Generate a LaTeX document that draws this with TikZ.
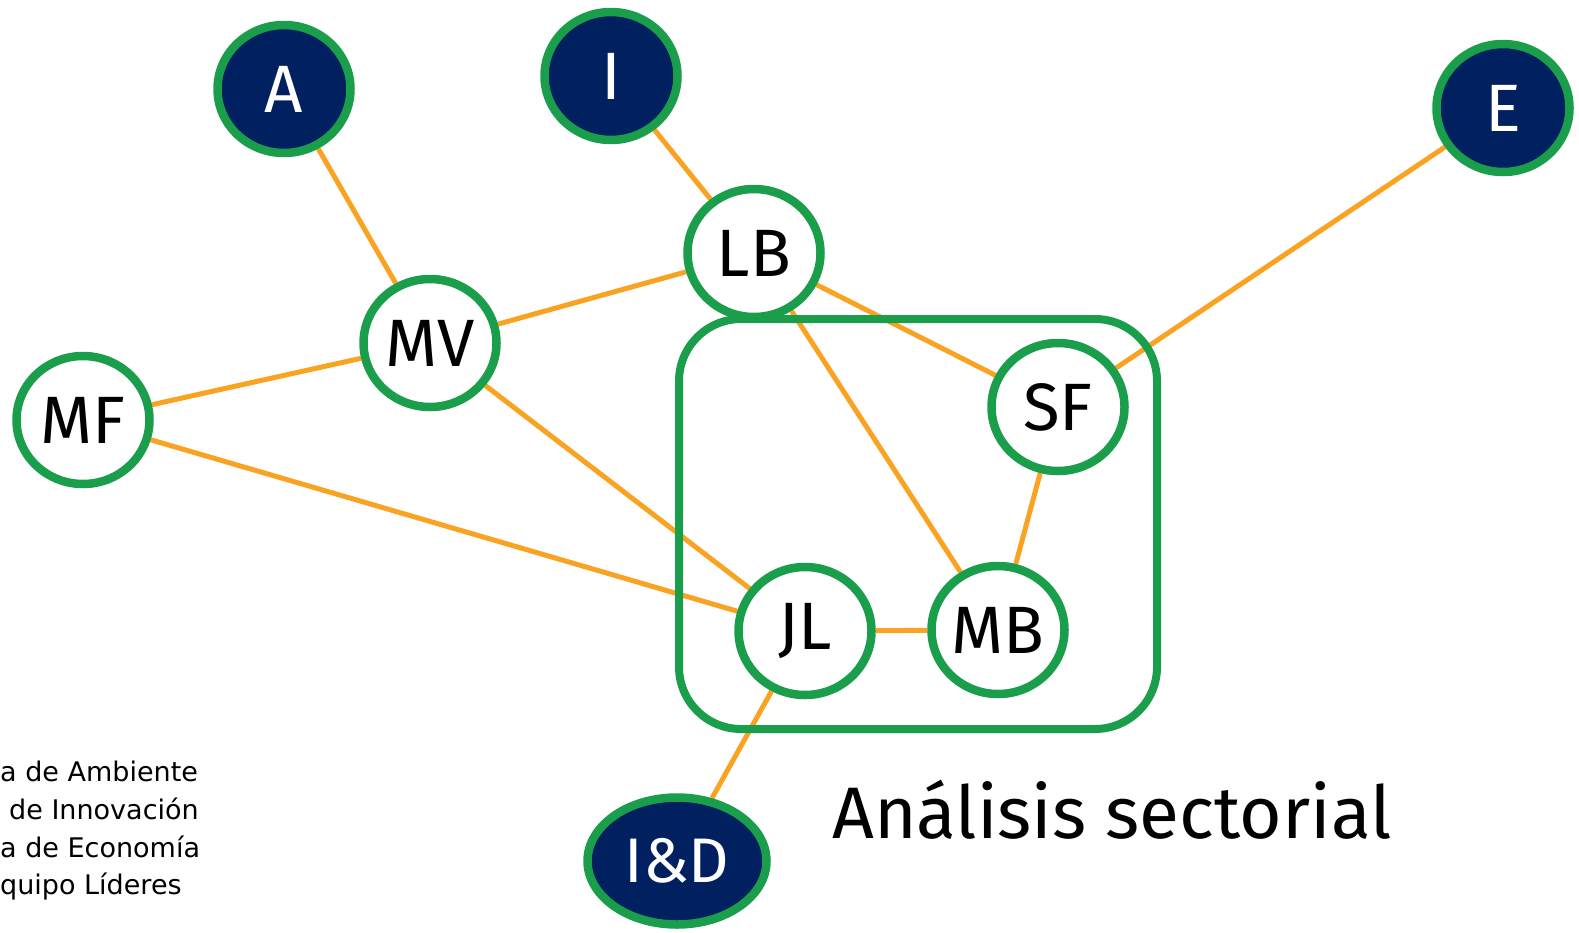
\documentclass[tikz,border=0pt]{standalone}
\usepackage{fontspec}
\setmainfont{Fira Sans}
\newfontfamily\notefont{DejaVu Sans}
\usetikzlibrary{shapes.geometric,backgrounds,shadows}
\definecolor{navy}{RGB}{0,32,96}
\definecolor{grn}{RGB}{26,158,76}
\definecolor{org}{RGB}{250,163,35}
\begin{document}
\begin{tikzpicture}[x=1pt,y=-1pt,
  person/.style={ellipse, draw=grn, line width=8.5pt, fill=white,
    minimum width=133pt, minimum height=128pt, inner sep=0pt,
    font=\fontsize{67}{67}\selectfont,
    drop shadow={shadow xshift=1.5pt, shadow yshift=-3pt, opacity=0.12}},
  area/.style={person, fill=navy, text=white},
  link/.style={draw=org, line width=5pt},
  group/.style={draw=grn, line width=8pt, rounded corners=62pt,
    minimum width=478pt, minimum height=410pt, inner sep=0pt},
  note/.style={anchor=base west, inner sep=0pt, font=\notefont\fontsize{27}{27}\selectfont}
]
\useasboundingbox (0,0) rectangle (1579,932);

\node[area] (A) at (284,89) {A};
\node[area] (I) at (611,76) {I};
\node[area] (E) at (1503,108) {E};
\node[area, minimum width=179pt, minimum height=127pt, font=\fontsize{63}{63}\selectfont] (ID) at (677,861) {I\&D};

\node[person] (LB) at (754,253) {LB};
\node[person] (MV) at (430,343) {MV};
\node[person] (MF) at (83,420) {MF};
\node[person] (SF) at (1058,407) {SF};
\node[person] (JL) at (805,631) {JL};
\node[person] (MB) at (998,630) {MB};

\begin{scope}[on background layer]
  \draw[link] (A) -- (MV);
  \draw[link] (I) -- (LB);
  \draw[link] (LB) -- (MV);
  \draw[link] (MV) -- (MF);
  \draw[link] (MF) -- (JL);
  \draw[link] (MV) -- (JL);
  \draw[link] (LB) -- (SF);
  \draw[link] (LB) -- (MB);
  \draw[link] (SF) -- (MB);
  \draw[link] (SF) -- (E);
  \draw[link] (JL) -- (MB);
  \draw[link] (JL) -- (ID);
\end{scope}

\node[group] (sector) at (918,524) {};

\node[anchor=base west, inner sep=0pt, font=\fontsize{73}{73}\selectfont] (title) at (832,838) {Análisis sectorial};

\node[note] (n1) at (0,781) {a de Ambiente};
\node[note] (n2) at (9,819) {de Innovación};
\node[note] (n3) at (0,857) {a de Economía};
\node[note] (n4) at (0,894) {quipo Líderes};
\end{tikzpicture}
\end{document}
